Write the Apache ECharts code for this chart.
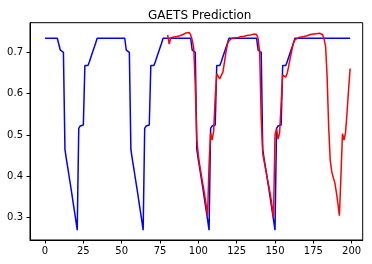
<!DOCTYPE html>
<html>
<head>
<meta charset="utf-8">
<script src="https://cdn.jsdelivr.net/npm/echarts@6/dist/echarts.min.js"></script>
<style>
html,body{margin:0;padding:0;background:#fff;}
#chart{width:372px;height:264px;}
</style>
</head>
<body>
<div id="chart"></div>
<script>
var titleText = 'GAETS Prediction';
var xTicks = [0, 25, 50, 75, 100, 125, 150, 175, 200];
var yTicks = [0.3, 0.4, 0.5, 0.6, 0.7];

// Blue series: x = 0..199
var blueStart = 0;
var blueValues = [
  0.734,0.734,0.734,0.734,0.734,0.734,0.734,0.734,0.734,0.734,
  0.705,0.702,0.700,0.465,0.440,0.417,0.393,0.370,0.345,0.320,
  0.296,0.270,0.516,0.522,0.524,0.524,0.668,0.668,0.668,0.678,
  0.689,0.700,0.711,0.722,0.734,0.734,0.734,0.734,0.734,0.734,
  0.734,0.734,0.734,0.734,0.734,0.734,0.734,0.734,0.734,0.734,
  0.734,0.734,0.734,0.705,0.702,0.700,0.465,0.440,0.417,0.393,
  0.370,0.345,0.320,0.296,0.270,0.516,0.522,0.524,0.524,0.668,
  0.668,0.668,0.678,0.689,0.700,0.711,0.722,0.734,0.734,0.734,
  0.734,0.734,0.734,0.734,0.734,0.734,0.734,0.734,0.734,0.734,
  0.734,0.734,0.734,0.734,0.734,0.734,0.705,0.702,0.700,0.465,
  0.440,0.417,0.393,0.370,0.345,0.320,0.296,0.270,0.516,0.522,
  0.524,0.524,0.668,0.668,0.668,0.678,0.689,0.700,0.711,0.722,
  0.734,0.734,0.734,0.734,0.734,0.734,0.734,0.734,0.734,0.734,
  0.734,0.734,0.734,0.734,0.734,0.734,0.734,0.734,0.734,0.705,
  0.702,0.700,0.465,0.440,0.417,0.393,0.370,0.345,0.320,0.296,
  0.270,0.516,0.522,0.524,0.524,0.668,0.668,0.668,0.678,0.689,
  0.700,0.711,0.722,0.734,0.734,0.734,0.734,0.734,0.734,0.734,
  0.734,0.734,0.734,0.734,0.734,0.734,0.734,0.734,0.734,0.734,
  0.734,0.734,0.734,0.734,0.734,0.734,0.734,0.734,0.734,0.734,
  0.734,0.734,0.734,0.734,0.734,0.734,0.734,0.734,0.734,0.734
];

// Red series: x = 80..199
var redStart = 80;
var redValues = [
  0.742,0.720,0.735,0.736,0.737,0.737,0.738,0.739,0.740,0.741,
  0.743,0.745,0.747,0.749,0.748,0.742,0.730,0.710,0.620,0.490,
  0.450,0.425,0.402,0.380,0.358,0.333,0.305,0.430,0.505,0.488,
  0.510,0.590,0.648,0.642,0.636,0.640,0.652,0.675,0.700,0.720,
  0.728,0.732,0.734,0.735,0.735,0.736,0.736,0.737,0.738,0.739,
  0.739,0.740,0.741,0.742,0.742,0.743,0.744,0.746,0.743,0.733,
  0.700,0.540,0.455,0.435,0.415,0.395,0.375,0.355,0.330,0.300,
  0.500,0.515,0.490,0.505,0.575,0.645,0.641,0.640,0.650,0.668,
  0.688,0.705,0.722,0.730,0.733,0.735,0.736,0.737,0.737,0.738,
  0.739,0.740,0.741,0.743,0.744,0.744,0.745,0.745,0.746,0.746,
  0.746,0.743,0.732,0.715,0.640,0.520,0.440,0.412,0.397,0.385,
  0.362,0.335,0.305,0.400,0.503,0.488,0.505,0.555,0.610,0.661
];

function toPairs(start, vals) {
  return vals.map(function (v, i) { return [start + i, v]; });
}

var chart = echarts.init(document.getElementById('chart'), null, {renderer: 'canvas'});
var font = 'DejaVu Sans';
chart.setOption({
  animation: false,
  backgroundColor: '#ffffff',
  title: {
    text: titleText,
    left: 143,
    top: 5,
    textStyle: {fontFamily: font, fontSize: 12, fontWeight: 'normal', color: '#000'}
  },
  grid: {
    left: 30, right: 9.3, top: 22.7, bottom: 24,
    show: true, borderColor: '#000', borderWidth: 1, backgroundColor: 'transparent'
  },
  xAxis: {
    type: 'value',
    min: -9.8, max: 207.2,
    splitLine: {show: false},
    axisLine: {show: true, onZero: false, lineStyle: {color: '#000', width: 1}},
    axisTick: {show: true, length: 3.5, lineStyle: {color: '#000', width: 1}, customValues: xTicks},
    axisLabel: {color: '#000', fontFamily: font, fontSize: 10, margin: 6, customValues: xTicks}
  },
  yAxis: {
    type: 'value',
    min: 0.2461, max: 0.7716,
    splitLine: {show: false},
    axisLine: {show: true, onZero: false, lineStyle: {color: '#000', width: 1}},
    axisTick: {show: true, length: 3.5, lineStyle: {color: '#000', width: 1}, customValues: yTicks},
    axisLabel: {color: '#000', fontFamily: font, fontSize: 10, margin: 7, customValues: yTicks,
      formatter: function (v) { return v.toFixed(1); }}
  },
  series: [
    {
      type: 'line', data: toPairs(blueStart, blueValues), showSymbol: false,
      lineStyle: {color: '#0000ff', width: 1.5}, itemStyle: {color: '#0000ff'}, z: 2
    },
    {
      type: 'line', data: toPairs(redStart, redValues), showSymbol: false,
      lineStyle: {color: '#ff0000', width: 1.5}, itemStyle: {color: '#ff0000'}, z: 3
    }
  ]
});
</script>
</body>
</html>
